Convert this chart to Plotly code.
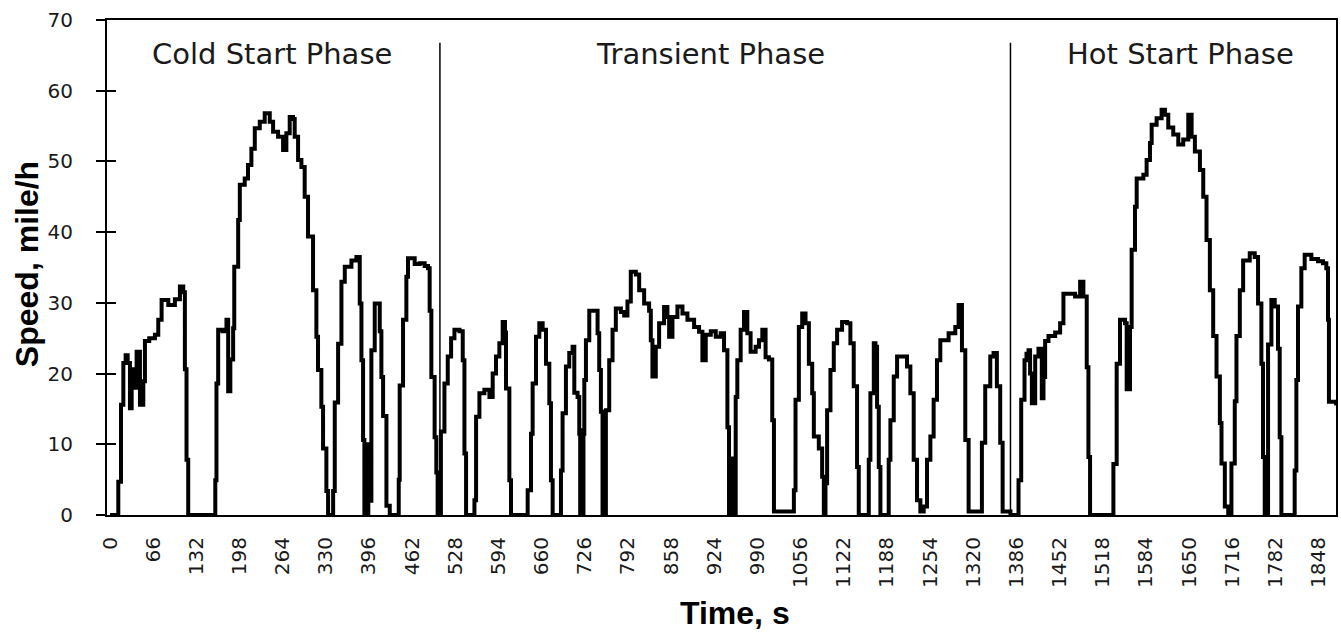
import plotly.graph_objects as go

# ---------------- data ----------------
cold_time = [0, 12, 12.7, 16.8, 20.4, 23.9, 27, 30.5, 33.1, 36, 40.7, 45.8, 50.9, 53.4, 60, 68.7,
             73.8, 78.9, 89.1, 99.2, 106.9, 112, 114.5, 117, 119.6, 160.3, 161, 162.8, 165.4, 172,
             178.1, 180.7, 184, 188.3, 190, 196, 198.5, 206, 211, 216.2, 221.4, 229, 236.6, 244.3,
             249.4, 257, 264.7, 269.7, 274.8, 279.9, 282.4, 287.6, 292.7, 297.7, 302.8, 310.5,
             315.6, 318.1, 323.2, 325.8, 330.9, 333.5, 338.6, 341.2, 343.7, 348.8, 353.9, 359,
             369.2, 376.8, 381.9, 384.5, 387, 389, 391, 393, 395, 397, 399.7, 404.8, 409.9, 412.5,
             415, 417.6, 422.7, 427.8, 440.5, 441.5, 443, 448.1, 453.2, 455.7, 465.9, 473.5, 481.2,
             486.3, 488.8, 491.4, 496.4, 499, 501, 502, 503]
cold_speed = [0, 0, 4.7, 15.6, 21.5, 22.6, 21.5, 15.1, 20.6, 18, 23.1, 15.6, 18.9, 24.6, 25, 25.5,
              27.6, 30.4, 29.7, 30.5, 32.3, 31.5, 20.6, 7.8, 0, 0, 4.9, 18.6, 26.2, 26,
              27.6, 17.5, 22, 26.4, 35.1, 41.7, 46.7, 47.6, 49.5, 51.8, 54.7, 55.6, 56.8, 55.6,
              54.2, 53.5, 51.6, 54, 56.3, 56, 53.5, 50.2, 49.2, 45.0, 39.4, 31.8,
              25.2, 20.5, 15.3, 9.4, 3.4, 0, 0, 3.4, 15.9, 24.2, 33, 35.1,
              36, 36.5, 29.9, 21.9, 10.6, 0, 10, 0, 10, 2, 23.3, 29.9, 29.9, 26,
              19.5, 14, 1.3, 0, 0, 5, 18.3, 27.6, 33.7, 36.3, 35.5, 35.6, 35.2,
              34.9, 28.9, 19.5, 11, 6, 0, 5, 0]

transient_time = [504.5, 506, 511.4, 516.5, 521.6, 526.7, 534.4, 539.4, 542, 544.5, 554.7, 557.3,
                  559.8, 564.9, 572.5, 580.2, 585.2, 590.3, 595.4, 600.5, 604, 605.6, 610.7, 613.2,
                  636.1, 638.7, 643.8, 646.3, 651.4, 656.5, 661.6, 666.7, 671.8, 674.3, 676.9, 687,
                  689.6, 692.1, 697.2, 702.3, 707.4, 710, 715, 717.6, 719, 721, 722.7, 724, 725.3,
                  727.8, 732.9, 740.5, 745.6, 748.1, 750.7, 753.2, 755, 757, 758.3, 763.4, 768.5,
                  773.5, 781.2, 786.3, 791.3, 796.4, 804.1, 809.2, 816.8, 824.4, 827, 829.5, 834.6,
                  839.7, 847.3, 852.4, 855, 860.1, 867.7, 875.4, 883, 893.2, 900.8, 905.9, 911,
                  918.7, 926.3, 933.9, 939, 944.1, 946.6, 949, 951, 953, 954.2, 956.8, 959.3, 964.4,
                  969.5, 974.6, 979.6, 987.3, 992.4, 997.5, 1002.5, 1007.6, 1012.7, 1015.3, 1043.3,
                  1045.8, 1048.3, 1053.4, 1058.5, 1063.6, 1068.7, 1073.8, 1076.3, 1083.9, 1089,
                  1091.6, 1094.1, 1096.6, 1101.7, 1106.8, 1111.9, 1119.5, 1127.2, 1132.2, 1137.3,
                  1142.4, 1145, 1158, 1160.3, 1162.8, 1168, 1170.5, 1173, 1175.6, 1178.1, 1188,
                  1190.8, 1193.4, 1198.5, 1203.6, 1211.2, 1218.8, 1223.9, 1229, 1234.1, 1239.2,
                  1244.3, 1249.4, 1254.5, 1259.5, 1264.6, 1269.7, 1282.4, 1292.6, 1297.7, 1302.8,
                  1307.9, 1313, 1330.8, 1333.3, 1338.4, 1346.1, 1351.1, 1356.2, 1361.3, 1365, 1377]
transient_speed = [0, 11.8, 18.6, 22.4, 25, 26.2, 26, 21.9, 8.7, 0, 0, 2.1,
                   13.9, 17.2, 17.7, 16.7, 20, 22.4, 24.3, 27.3, 25.8, 17.9, 4.9, 0,
                   0, 3.5, 11.5, 18.6, 25.2, 27.1, 26.2, 21.4, 15.8, 4.9, 0, 0,
                   6.3, 14.4, 21, 22.9, 23.8, 17.3, 16.7, 11.5, 0, 12, 0, 11.5, 19.1,
                   24.7, 28.9, 28.9, 25.7, 20.5, 14.6, 0, 14, 0, 14.8, 21.9, 26.2,
                   29.2, 28.7, 28.2, 30.2, 34.4, 34, 31.8, 29.9, 28.9, 24.7, 19.6, 23.8,
                   27.1, 29.4, 28, 25.2, 28, 29.5, 28.5, 27.6, 26.6, 25.9, 21.9, 25.5,
                   26, 25.2, 25.7, 23.3, 12.4, 0, 8, 0, 6, 0, 16.7, 21.9, 26.2,
                   28.7, 25.7, 23.1, 23.8, 24.7, 26.2, 22.3, 22, 13.4, 0.5, 0.5,
                   3.5, 16.3, 26.6, 28.5, 27.1, 21.4, 17.2, 11.1, 9.4, 5.4,
                   0, 4.5, 14.8, 20.5, 24.3, 26.2, 27.3, 27.1, 24.3, 18.2,
                   6.8, 0, 0, 7.8, 17.2, 24.3, 23.8, 15.3, 6.8, 0, 0,
                   7.8, 13.4, 19.6, 22.4, 22.4, 21, 17.2, 7.8, 2.1, 0.5,
                   1.2, 7.8, 11.1, 16.3, 21.9, 24.7, 25.7, 26.6, 29.7, 23.3,
                   10.6, 0.5, 0.5, 10.2, 18.2, 22.4, 22.9, 18.2, 10.2, 0.5, 0]

hot_time = [1386.8, 1389.3, 1393.4, 1398.5, 1401.5, 1404.6, 1407, 1409.7, 1414.8, 1419.8, 1424.9,
            1427.5, 1430, 1435.1, 1445.3, 1452.9, 1458, 1468.2, 1475.8, 1483.5, 1488.5, 1493.6,
            1496.2, 1498.7, 1531.8, 1534.4, 1539.4, 1544.5, 1552.2, 1554.7, 1559.8, 1562.3,
            1567.4, 1570, 1580.2, 1585.2, 1590.3, 1592.9, 1600.5, 1608.1, 1613.2, 1618.3, 1625.9,
            1633.6, 1641.2, 1648.9, 1654, 1659, 1666.7, 1671.8, 1676.8, 1681.9, 1687, 1692.1,
            1697.2, 1699.7, 1704.8, 1710, 1714.9, 1720, 1722.6, 1727.7, 1732.8, 1742.9, 1750.5,
            1755.6, 1760.7, 1763.2, 1765.8, 1767, 1769, 1770.9, 1776, 1781.1, 1786.1, 1788.7,
            1791.3, 1809, 1811.6, 1814.2, 1816.7, 1821.8, 1826.9, 1837.1, 1847.3, 1854.9, 1860,
            1862.6, 1864, 1875]
hot_speed = [0, 4.9, 16.3, 21.9, 22.8, 23.3, 20, 15.8, 22.4, 23.5, 16.5,
             19.5, 24.6, 25.3, 25.8, 27.1, 31.3, 31.3, 30.9, 33, 30.9, 20.9,
             8.2, 0, 0, 7.2, 21.4, 27.6, 27.1, 17.8, 26.6, 37.5,
             43.6, 47.6, 48.1, 50.2, 52.6, 55.2, 56.1, 57.3, 56.6, 54.8, 53.8,
             52.4, 53.1, 56.6, 53.5, 51.4, 48.8, 45, 38.9, 31.8, 25.3, 19.6,
             13, 7.3, 1.2, 0, 7.3, 16.1, 25.3, 31.8, 36, 37, 36.5,
             29.9, 21.4, 8.2, 0, 8, 0, 24.1, 30.4, 29.5, 23.5, 11,
             0, 0, 6.3, 19.1, 29.5, 34.9, 36.8, 36.2, 35.9, 35.6, 34.9,
             27.6, 16, 15.5]

phase_names = ["Cold Start Phase", "Transient Phase", "Hot Start Phase"]
phase_label_x = [247, 919, 1637]
phase_boundaries = [504.5, 1377]

x_tick_values = list(range(0, 1849, 66))
x_tick_labels = [str(v) for v in x_tick_values]
y_tick_values = [0, 10, 20, 30, 40, 50, 60, 70]

time = cold_time + transient_time + hot_time
speed = cold_speed + transient_speed + hot_speed

# ---------------- figure ----------------
fig = go.Figure()
fig.add_trace(go.Scatter(x=time, y=speed, mode="lines",
                         line=dict(color="black", width=4, shape="hv"), showlegend=False,
                         hoverinfo="x+y"))
# invisible trace on a twin axis, just to get inside tick marks (cross ticks)
fig.add_trace(go.Scatter(x=[time[0]], y=[speed[0]], yaxis="y2", mode="lines",
                         line=dict(width=0), showlegend=False, hoverinfo="skip"))

tick_font = dict(family="DejaVu Sans", size=20, color="#1a1a1a")

fig.update_layout(
    width=1341, height=634,
    margin=dict(l=107, r=3, t=20, b=119),
    paper_bgcolor="white", plot_bgcolor="white",
    xaxis=dict(range=[-4.6, 1874.8], tickmode="array", tickvals=x_tick_values,
               ticktext=x_tick_labels, tickangle=-90, tickfont=tick_font,
               ticks="", showgrid=False, zeroline=False,
               showline=True, linecolor="black", linewidth=2, mirror=True,
               ticklabelstandoff=12),
    yaxis=dict(range=[0, 70], tickmode="array", tickvals=y_tick_values,
               tickfont=tick_font, ticks="outside", ticklen=9, tickwidth=2,
               tickcolor="black", showgrid=False, zeroline=False,
               showline=True, linecolor="black", linewidth=2, mirror=True,
               ticklabelstandoff=19),
    yaxis2=dict(range=[0, 70], overlaying="y", side="left", anchor="x",
                tickmode="array", tickvals=y_tick_values, ticks="inside",
                ticklen=9, tickwidth=2, tickcolor="black", showticklabels=False,
                showgrid=False, zeroline=False, showline=False),
)

for xb in phase_boundaries:
    fig.add_shape(type="line", xref="x", yref="y", x0=xb, x1=xb, y0=0, y1=66.8,
                  line=dict(color="black", width=1.5))

for name, xl in zip(phase_names, phase_label_x):
    fig.add_annotation(x=xl, y=0.931, xref="x", yref="paper", text=name,
                       showarrow=False, xanchor="center", yanchor="middle",
                       font=dict(family="DejaVu Sans", size=29, color="#1a1a1a"))

title_font = dict(family="Liberation Sans", size=32, color="black")
fig.add_annotation(x=27, y=264, xref="paper", yref="paper", text="<b>Speed, mile/h</b>",
                   textangle=-90, showarrow=False, xanchor="center", yanchor="middle",
                   font=title_font)
fig.add_annotation(x=736, y=613, xref="paper", yref="paper", text="<b>Time, s</b>",
                   showarrow=False, xanchor="center", yanchor="middle", font=title_font)

# convert pixel positions of the axis titles to paper coordinates
pw, ph = 1341 - 107 - 3, 634 - 20 - 119
for ann in fig.layout.annotations[-2:]:
    ann.x = (ann.x - 107) / pw
    ann.y = (634 - 119 - ann.y) / ph

fig.write_html("out.html", config={"displayModeBar": False},
               post_script="document.body.style.margin='0';")
